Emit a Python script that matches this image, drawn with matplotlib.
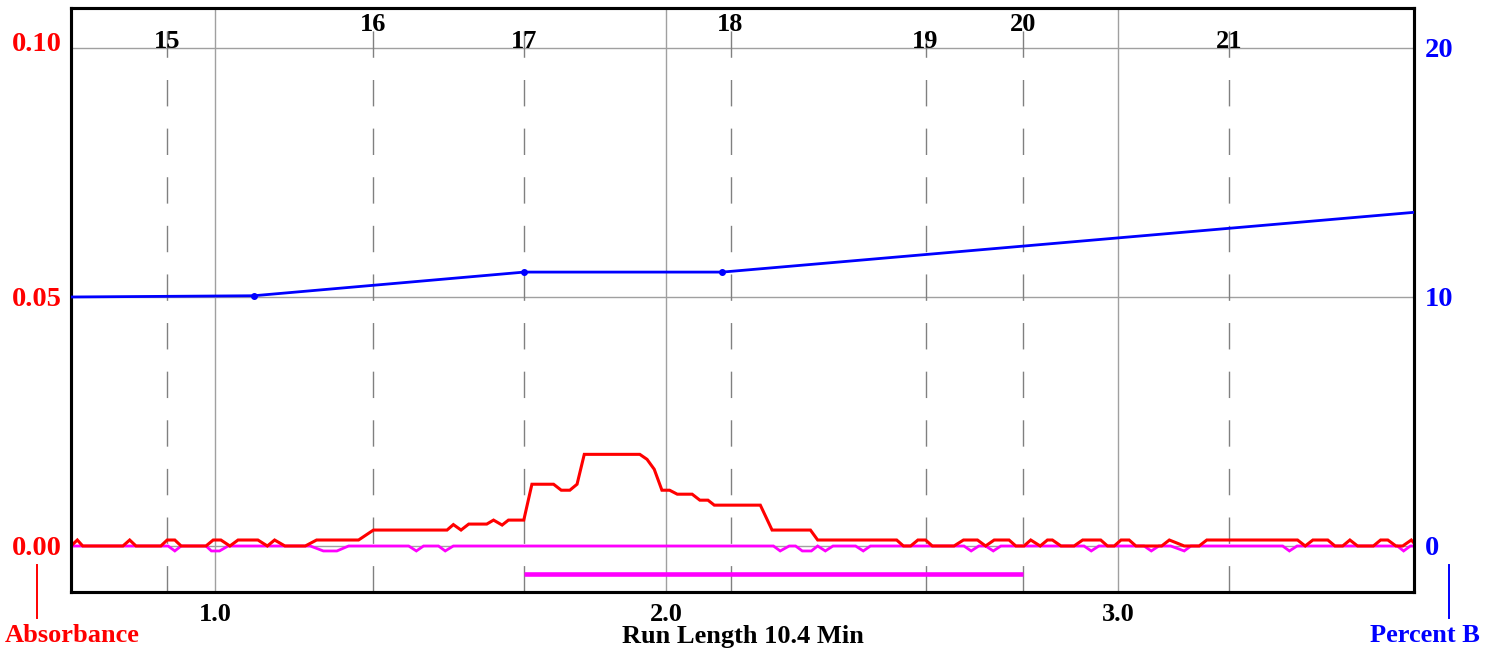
import matplotlib
matplotlib.use("Agg")
import matplotlib.pyplot as plt
import matplotlib.transforms as mtransforms
from matplotlib.lines import Line2D

plt.rcParams['font.family'] = ['Liberation Serif', 'DejaVu Serif']
plt.rcParams['lines.scale_dashes'] = False

W, H = 1498, 653
RED = "#FF0000"
BLUE = "#0000FF"
MAGENTA = "#FF00FF"
GRID = "#A0A0A0"
DASH = "#808080"

# ── data ──
# absorbance trace (vertices, minutes / AU)
red_time = [0.681, 0.695, 0.707, 0.796, 0.811, 0.825, 0.880, 0.894, 0.911, 0.925,
            0.980, 0.996, 1.013, 1.033, 1.051, 1.095, 1.116, 1.132, 1.155, 1.200,
            1.225, 1.318, 1.351, 1.514, 1.528, 1.545, 1.562, 1.602, 1.617, 1.636,
            1.650, 1.684, 1.702, 1.750, 1.767, 1.786, 1.802, 1.818, 1.941, 1.957,
            1.973, 1.990, 2.007, 2.024, 2.057, 2.074, 2.092, 2.106, 2.208, 2.234,
            2.319, 2.335, 2.510, 2.525, 2.541, 2.557, 2.574, 2.589, 2.637, 2.658,
            2.689, 2.707, 2.726, 2.759, 2.774, 2.792, 2.807, 2.828, 2.844, 2.855,
            2.874, 2.903, 2.922, 2.962, 2.977, 2.992, 3.007, 3.025, 3.040, 3.097,
            3.114, 3.147, 3.180, 3.197, 3.398, 3.415, 3.432, 3.465, 3.481, 3.498,
            3.514, 3.531, 3.566, 3.582, 3.598, 3.616, 3.631, 3.650, 3.656]
red_abs = [0.0, 0.0012, 0.0, 0.0, 0.0012, 0.0, 0.0, 0.0012, 0.0012, 0.0,
           0.0, 0.0012, 0.0012, 0.0, 0.0012, 0.0012, 0.0, 0.0012, 0.0, 0.0,
           0.0012, 0.0012, 0.0032, 0.0032, 0.0043, 0.0032, 0.0044, 0.0044, 0.0052, 0.0042,
           0.0052, 0.0052, 0.0124, 0.0124, 0.0112, 0.0112, 0.0124, 0.0184, 0.0184, 0.0174,
           0.0154, 0.0112, 0.0112, 0.0104, 0.0104, 0.0092, 0.0092, 0.0082, 0.0082, 0.0032,
           0.0032, 0.0012, 0.0012, 0.0, 0.0, 0.0012, 0.0012, 0.0, 0.0, 0.0012,
           0.0012, 0.0, 0.0012, 0.0012, 0.0, 0.0, 0.0012, 0.0, 0.0012, 0.0012,
           0.0, 0.0, 0.0012, 0.0012, 0.0, 0.0, 0.0012, 0.0012, 0.0, 0.0,
           0.0012, 0.0, 0.0, 0.0012, 0.0012, 0.0, 0.0012, 0.0012, 0.0, 0.0,
           0.0012, 0.0, 0.0, 0.0012, 0.0012, 0.0, 0.0, 0.0012, 0.0006]

# second (magenta) trace
mag_time = [0.681,
            0.896, 0.911, 0.925, 0.980, 0.992, 1.010, 1.029,
            1.211, 1.240, 1.270, 1.296, 1.429, 1.446, 1.462,
            1.495, 1.510, 1.528, 2.237, 2.252, 2.272,
            2.286, 2.301, 2.321, 2.335, 2.352, 2.369,
            2.419, 2.436, 2.452, 2.659, 2.675, 2.692,
            2.707, 2.724, 2.741, 2.925, 2.941, 2.958,
            3.058, 3.074, 3.091, 3.117, 3.147, 3.162,
            3.365, 3.380, 3.397, 3.619, 3.633, 3.648,
            3.656]
mag_abs = [0.0,
           0.0, -0.001, 0.0, 0.0, -0.001, -0.001, 0.0,
           0.0, -0.001, -0.001, 0.0, 0.0, -0.001, 0.0,
           0.0, -0.001, 0.0, 0.0, -0.001, 0.0,
           0.0, -0.001, -0.001, 0.0, -0.001, 0.0,
           0.0, -0.001, 0.0, 0.0, -0.001, 0.0,
           0.0, -0.001, 0.0, 0.0, -0.001, 0.0,
           0.0, -0.001, 0.0, 0.0, -0.001, 0.0,
           0.0, -0.001, 0.0, 0.0, -0.001, 0.0,
           0.0]

# gradient, percent B
pb_time = [0.681, 1.086, 1.685, 2.124, 3.656]
pb_value = [10.0, 10.05, 11.0, 11.0, 13.4]

# fraction markers
frac_time = [0.894, 1.350, 1.685, 2.142, 2.574, 2.789, 3.246]
frac_label = ["15", "16", "17", "18", "19", "20", "21"]
frac_high = [False, True, False, True, False, True, False]

# collected window
collect_time = [1.685, 2.789]
collect_level = -0.0056

assert len(red_time) == len(red_abs)
assert len(mag_time) == len(mag_abs)

XMIN, XMAX = 0.681, 3.656
YMIN, YMAX = -0.00924, 0.10803

fig = plt.figure(figsize=(W / 100, H / 100), dpi=100, facecolor="white")
ax = fig.add_axes([71 / W, 1 - 592 / H, (1414 - 71) / W, (592 - 8) / H])
ax.set_xlim(XMIN, XMAX)
ax.set_ylim(YMIN, YMAX)

tick_font = dict(fontsize=19, fontweight="bold")
ytick_font = dict(fontsize=20.5, fontweight="bold")

ax.set_xticks([1.0, 2.0, 3.0])
ax.set_xticklabels(["1.0", "2.0", "3.0"], **tick_font)
ax.set_yticks([0.0, 0.05, 0.10])
ax.set_yticklabels(["0.00", "0.05", "0.10"], color=RED, **ytick_font)
ax.tick_params(axis="x", length=0, pad=8)
ax.tick_params(axis="y", length=0, pad=6.5)
# the top label sits a touch above its grid line
top_lab = ax.get_yticklabels()[2]
top_lab.set_transform(top_lab.get_transform() +
                      mtransforms.ScaledTranslation(0, 6 / 100, fig.dpi_scale_trans))

ax.grid(True, color=GRID, lw=1.0, zorder=0)
ax.set_axisbelow(True)
for s in ax.spines.values():
    s.set_linewidth(2.2)
    s.set_color("black")
    s.set_zorder(6)

# fraction markers
trans = mtransforms.blended_transform_factory(ax.transData, ax.transAxes)
for t, lab, hi in zip(frac_time, frac_label, frac_high):
    ax.plot([t, t], [0, 1], transform=trans, color=DASH, lw=1.0,
            dashes=(19, 16), zorder=1)
    ax.text(t, 0.9726 if hi else 0.9418, lab, transform=trans, ha="center", va="center",
            color="black", zorder=5, **tick_font)

# traces
ax.plot(mag_time, mag_abs, color=MAGENTA, lw=2.0, zorder=3, solid_joinstyle="miter")
ax.plot(red_time, red_abs, color=RED, lw=2.2, zorder=4, solid_joinstyle="miter")
ax.plot(collect_time, [collect_level, collect_level], color=MAGENTA, lw=3.3,
        solid_capstyle="butt", zorder=3)

# percent B on the right axis
ax2 = ax.twinx()
ax2.set_ylim(YMIN * 200, YMAX * 200)
ax2.set_yticks([0, 10, 20])
ax2.set_yticklabels(["0", "10", "20"], color=BLUE, **ytick_font)
ax2.tick_params(axis="y", length=0, pad=8)
for s in ax2.spines.values():
    s.set_linewidth(2.2)
    s.set_color("black")
ax2.plot(pb_time, pb_value, color=BLUE, lw=2.0, zorder=4)
ax2.plot(pb_time[1:4], pb_value[1:4], "o", color=BLUE, ms=4, zorder=5)

# bottom captions
fig.text(742.5 / W, 1 - 636 / H, "Run Length 10.4 Min", ha="center", va="center",
         color="black", **tick_font)
fig.text(72 / W, 1 - 636 / H, "Absorbance", ha="center", va="center", color=RED, **tick_font)
fig.text(1425 / W, 1 - 636 / H, "Percent B", ha="center", va="center", color=BLUE, **tick_font)
fig.add_artist(Line2D([37 / W, 37 / W], [1 - 565 / H, 1 - 618 / H], color=RED, lw=1.4))
fig.add_artist(Line2D([1449 / W, 1449 / W], [1 - 565 / H, 1 - 618 / H], color=BLUE, lw=1.4))

fig.savefig("out.png", dpi=100, facecolor="white")
